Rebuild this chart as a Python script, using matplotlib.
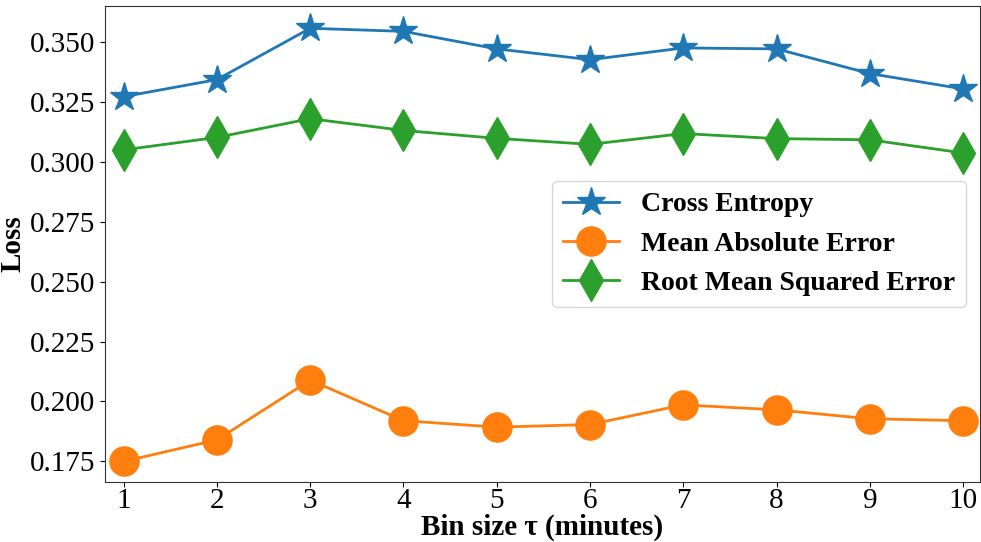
import numpy as np
import matplotlib
matplotlib.use("Agg")
import matplotlib.pyplot as plt

plt.rcParams['font.family'] = ['Liberation Serif', 'DejaVu Serif']

# ---------------------------------
# data

bin_sizes = [1, 2, 3, 4, 5, 6, 7, 8, 9, 10]
cross_entropy = [0.3271, 0.3342, 0.3556, 0.3543, 0.3470, 0.3425, 0.3474, 0.3470, 0.3367, 0.3303]
mae = [0.1750, 0.1840, 0.2089, 0.1920, 0.1893, 0.1904, 0.1986, 0.1965, 0.1928, 0.1920]
rmse = [0.3049, 0.3101, 0.3179, 0.3130, 0.3097, 0.3072, 0.3117, 0.3096, 0.3091, 0.3036]

labels = ['Cross Entropy', 'Mean Absolute Error', 'Root Mean Squared Error']

# ---------------------------------
# plot

fig = plt.figure(figsize=(9.81, 5.42), dpi=100)
ax = fig.add_axes([0.107, 0.111, 0.892, 0.878])

ax.plot(bin_sizes, cross_entropy, marker='*', markersize=21, linewidth=2,
        color='#1f77b4', label=labels[0])
ax.plot(bin_sizes, mae, marker='o', markersize=21, linewidth=2,
        color='#ff7f0e', label=labels[1])
ax.plot(bin_sizes, rmse, marker='d', markersize=21, linewidth=2,
        color='#2ca02c', label=labels[2])

ax.set_xlim(0.8, 10.18)
ax.set_ylim(0.1665, 0.3649)
ax.set_xticks(bin_sizes)
ax.set_yticks(np.arange(0.175, 0.351, 0.025))
ax.yaxis.set_major_formatter(matplotlib.ticker.FormatStrFormatter('%.3f'))
ax.tick_params(labelsize=21)
ax.tick_params(axis='x', pad=1)

ax.set_xlabel('Bin size τ (minutes)', fontsize=21, fontweight='bold', labelpad=0)
ax.set_ylabel('Loss', fontsize=21, fontweight='bold', labelpad=2)

for s in ax.spines.values():
    s.set_color('#333333')

ax.legend(loc='center right', prop={'size': 20, 'weight': 'bold'})

fig.savefig('out.png', dpi=100)
